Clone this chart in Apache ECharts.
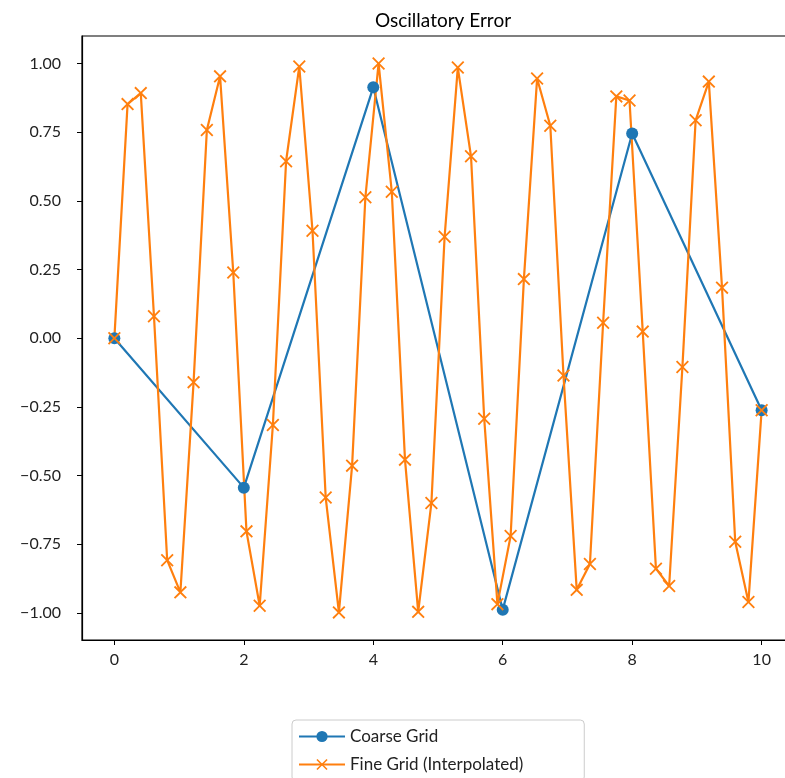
<!DOCTYPE html>
<html>
<head>
<meta charset="utf-8">
<script src="https://cdn.jsdelivr.net/npm/echarts@6/dist/echarts.min.js"></script>
<style>
  html, body { margin: 0; padding: 0; background: #fff; }
  #chart { width: 785px; height: 778px; }
</style>
</head>
<body>
<div id="chart"></div>
<script>
// coarse grid samples
var coarseX = [0, 2, 4, 6, 8, 10];
var coarseY = [0, -0.544, 0.913, -0.988, 0.745, -0.262];

// fine grid samples (interpolated)
var fineX = [0, 0.204, 0.408, 0.612, 0.816, 1.020, 1.224, 1.429, 1.633, 1.837,
             2.041, 2.245, 2.449, 2.653, 2.857, 3.061, 3.265, 3.469, 3.673, 3.878,
             4.082, 4.286, 4.490, 4.694, 4.898, 5.102, 5.306, 5.510, 5.714, 5.918,
             6.122, 6.327, 6.531, 6.735, 6.939, 7.143, 7.347, 7.551, 7.755, 7.959,
             8.163, 8.367, 8.571, 8.776, 8.980, 9.184, 9.388, 9.592, 9.796, 10];
var fineY = [0, 0.852, 0.892, 0.080, -0.808, -0.925, -0.160, 0.758, 0.953, 0.239,
             -0.703, -0.974, -0.316, 0.644, 0.989, 0.391, -0.580, -0.998, -0.464, 0.513,
             1.000, 0.533, -0.442, -0.996, -0.600, 0.369, 0.985, 0.662, -0.293, -0.968,
             -0.720, 0.215, 0.945, 0.773, -0.136, -0.916, -0.822, 0.056, 0.880, 0.865,
             0.024, -0.839, -0.902, -0.105, 0.793, 0.934, 0.184, -0.741, -0.960, -0.262];

var yTicks = [-1, -0.75, -0.5, -0.25, 0, 0.25, 0.5, 0.75, 1];
var xTicks = [0, 2, 4, 6, 8, 10];

function pairs(xs, ys) {
  var out = [];
  for (var i = 0; i < xs.length; i++) out.push([xs[i], ys[i]]);
  return out;
}

var crossPath = 'path://M0,1L1,0L5,4L9,0L10,1L6,5L10,9L9,10L5,6L1,10L0,9L4,5Z';
var font = 'Lato';

var chart = echarts.init(document.getElementById('chart'), null, {renderer: 'canvas'});
var option = {
  animation: false,
  backgroundColor: '#fff',
  title: {
    text: 'Oscillatory Error',
    left: 438,
    top: 6,
    textAlign: 'center',
    textStyle: {fontFamily: font, fontSize: 19, fontWeight: 'normal', color: '#000'}
  },
  grid: {
    left: 82, top: 36, width: 712, height: 604,
    outerBoundsMode: 'none',
    show: true, borderColor: '#000', borderWidth: 1.2, backgroundColor: 'transparent'
  },
  legend: {
    orient: 'vertical',
    left: 292, top: 720, height: 90,
    itemWidth: 46, itemHeight: 14, itemGap: 11,
    padding: [8, 61, 8, 6],
    borderColor: '#ccc', borderWidth: 1, borderRadius: 4,
    textStyle: {fontFamily: font, fontSize: 17, color: '#222'},
    data: ['Coarse Grid', 'Fine Grid (Interpolated)']
  },
  xAxis: {
    type: 'value', min: -0.5, max: 10.5,
    splitLine: {show: false},
    axisLine: {show: true, onZero: false, lineStyle: {color: '#000', width: 1.2}},
    axisTick: {show: true, customValues: xTicks, length: 5, lineStyle: {color: '#000'}},
    axisLabel: {customValues: xTicks, fontFamily: font, fontSize: 16, color: '#222', margin: 12}
  },
  yAxis: {
    type: 'value', min: -1.0985, max: 1.0999,
    splitLine: {show: false},
    axisLine: {show: true, onZero: false, lineStyle: {color: '#000', width: 1.2}},
    axisTick: {show: true, customValues: yTicks, length: 5, lineStyle: {color: '#000'}},
    axisLabel: {
      customValues: yTicks, fontFamily: font, fontSize: 16, color: '#222', margin: 21,
      formatter: function (v) { return v.toFixed(2).replace('-', '\u2212'); }
    }
  },
  series: [{
    name: 'Coarse Grid',
    type: 'line',
    data: pairs(coarseX, coarseY),
    symbol: 'circle', symbolSize: 12,
    lineStyle: {color: '#1f77b4', width: 2.2},
    itemStyle: {color: '#1f77b4'}
  }, {
    name: 'Fine Grid (Interpolated)',
    type: 'line',
    data: pairs(fineX, fineY),
    symbol: crossPath, symbolSize: 13,
    lineStyle: {color: '#ff7f0e', width: 2.2},
    itemStyle: {color: '#ff7f0e'}
  }]
};
chart.setOption(option);
</script>
</body>
</html>
